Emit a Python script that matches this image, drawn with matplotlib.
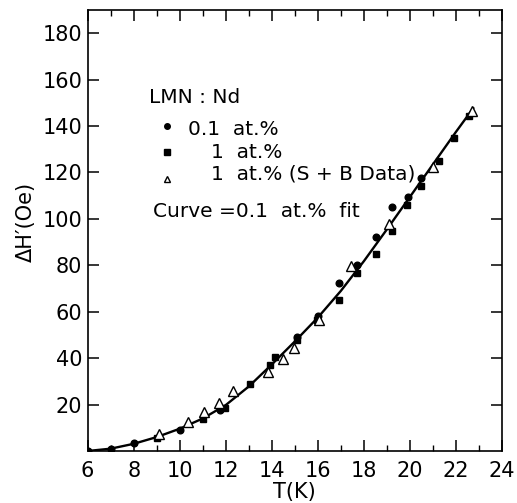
import matplotlib
matplotlib.use("Agg")
import matplotlib.pyplot as plt
from matplotlib.ticker import MultipleLocator, FixedLocator

plt.rcParams['font.family'] = ['DejaVu Sans']

# 0.1 at.% sample (filled circles)
t_01 = [6.0, 7.0, 8.0, 10.0, 11.75, 15.1, 16.0, 16.93, 17.72, 18.53, 19.22, 19.92, 20.5]
h_01 = [0.0, 1.0, 3.3, 9.0, 17.7, 49.0, 58.0, 72.5, 80.3, 92.4, 105.0, 109.4, 117.5]

# 1 at.% sample (filled squares)
t_1 = [9.0, 11.02, 11.96, 13.06, 13.93, 14.12, 15.1, 15.95, 16.93, 17.68, 18.52,
       19.2, 19.88, 20.47, 21.26, 21.9, 22.55]
h_1 = [5.5, 13.7, 18.7, 28.8, 37.1, 40.4, 47.8, 56.5, 65.1, 76.6, 84.7,
       94.9, 106.0, 114.2, 125.0, 135.0, 144.4]

# 1 at.% S + B data (open triangles)
t_sb = [9.08, 10.37, 11.06, 11.7, 12.32, 13.85, 14.48, 14.97, 16.05, 17.46, 19.11, 21.0, 22.7]
h_sb = [7.2, 12.6, 16.8, 20.5, 25.7, 34.0, 39.5, 44.3, 56.5, 79.7, 97.6, 122.5, 146.7]

# fitted curve for the 0.1 at.% sample
t_fit = [6, 7, 8, 9, 10, 11, 12, 13, 14, 15, 16, 17, 18, 19, 20, 21, 22, 22.75]
h_fit = [0.0, 1.0, 3.1, 6.0, 9.6, 14.0, 19.8, 27.8, 37.3, 47.2, 57.5, 69.0,
         81.8, 95.5, 109.5, 123.5, 137.5, 147.7]

x_ticks = list(range(6, 25, 2))
y_ticks = list(range(20, 181, 20))

fig = plt.figure(figsize=(5.17, 5.03), dpi=100)
ax = fig.add_axes([0.1696, 0.1034, 0.8014, 0.8767])

ax.plot(t_fit, h_fit, color='black', lw=1.7, zorder=2)
ax.plot(t_01, h_01, 'o', color='black', ms=4.8, zorder=3)
ax.plot(t_1, h_1, 's', color='black', ms=5.0, zorder=3)
ax.plot(t_sb, h_sb, '^', mfc='white', mec='black', mew=1.0, ms=6.5, zorder=4)

ax.set_xlim(6, 24)
ax.set_ylim(0, 190)
ax.xaxis.set_major_locator(FixedLocator(x_ticks))
ax.xaxis.set_minor_locator(MultipleLocator(1))
ax.yaxis.set_major_locator(FixedLocator(y_ticks))
ax.tick_params(axis='both', which='major', direction='in', length=8, width=1.1,
               top=True, right=True, labelsize=15)
ax.tick_params(axis='x', which='major', pad=7)
ax.tick_params(axis='y', which='major', pad=4, length=8)
ax.tick_params(axis='x', which='minor', direction='in', length=4, width=1.0,
               top=True, bottom=True)
for s in ax.spines.values():
    s.set_linewidth(1.2)

ax.set_xlabel('T(K)', fontsize=15)
ax.xaxis.set_label_coords(0.5, -0.071)
ax.set_ylabel('ΔH′(Oe)', fontsize=15)
ax.yaxis.set_label_coords(-0.125, 0.52)

# key
tr = ax.transAxes
fs = 14.5
ax.text(0.1489, 0.7884, 'LMN : Nd', transform=tr, fontsize=fs, va='baseline')
ax.plot([0.1907], [0.7370], 'o', color='black', ms=4.0, transform=tr)
ax.plot([0.1907], [0.6780], 's', color='black', ms=4.2, transform=tr)
ax.plot([0.1907], [0.6168], '^', mfc='white', mec='black', mew=1.0, ms=5.0, transform=tr)
ax.text(0.2433, 0.7166, '0.1  at.%', transform=tr, fontsize=fs, va='baseline')
ax.text(0.2981, 0.6637, '1  at.%', transform=tr, fontsize=fs, va='baseline')
ax.text(0.2981, 0.6161, '1  at.% (S + B Data)', transform=tr, fontsize=fs, va='baseline')
ax.text(0.1588, 0.5313, 'Curve =0.1  at.%  fit', transform=tr, fontsize=fs, va='baseline')

fig.savefig('out.png', dpi=100)
